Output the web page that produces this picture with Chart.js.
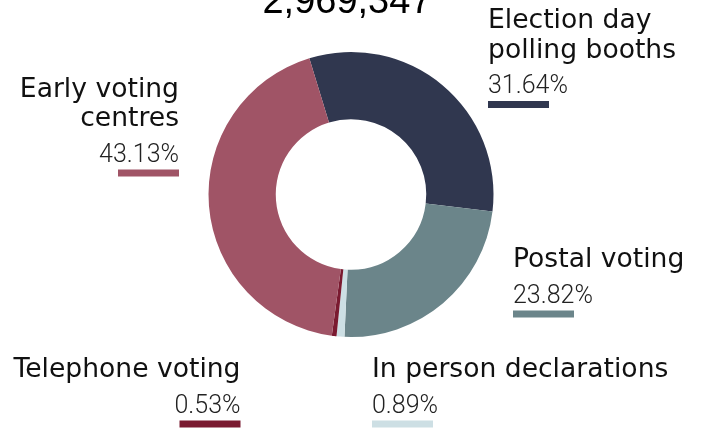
<!DOCTYPE html>
<html lang="en">
<head>
<meta charset="UTF-8">
<title>Votes by method</title>
<script src="https://cdn.jsdelivr.net/npm/chart.js"></script>
<style>
  html, body { margin: 0; padding: 0; background: #fff; }
  .wrap { width: 702px; height: 429px; position: relative; }
</style>
</head>
<body>
<div class="wrap"><canvas id="votes" width="702" height="429"></canvas></div>
<script>
// data
const totalVotes = '2,969,347';
const methods = ['Election day polling booths', 'Postal voting', 'In person declarations', 'Telephone voting', 'Early voting centres'];
const shares = [31.64, 23.82, 0.89, 0.53, 43.13];
const colours = ['#30374f', '#6b858a', '#cddfe4', '#7a1a30', '#a05466'];

// where each label sits (split lines, anchor x, text align, first baseline)
const labelLines = [['Election day', 'polling booths'], ['Postal voting'], ['In person declarations'], ['Telephone voting'], ['Early voting', 'centres']];
const labelPos = [
  { x: 488, align: 'left', y: 28 },
  { x: 513, align: 'left', y: 267 },
  { x: 372, align: 'left', y: 377 },
  { x: 240.5, align: 'right', y: 377 },
  { x: 179, align: 'right', y: 96.5 }
];

const labelPlugin = {
  id: 'labelPlugin',
  afterDraw(chart) {
    const c = chart.ctx;
    c.save();
    // big total, cut off at top like the original
    c.fillStyle = '#000';
    c.font = '38px "Liberation Sans", Arial, sans-serif';
    c.textAlign = 'center';
    c.textBaseline = 'alphabetic';
    c.fillText(totalVotes, 347, 13);

    labelPos.forEach((p, i) => {
      c.textAlign = p.align;
      c.fillStyle = '#111';
      c.font = '26.6px "DejaVu Sans", sans-serif';
      let y = p.y;
      labelLines[i].forEach((ln, j) => {
        c.fillText(ln, p.x, y);
        if (j < labelLines[i].length - 1) y += 29.5;
      });
      y += 35.5;
      c.fillStyle = '#222';
      c.font = '300 25px Roboto, sans-serif';
      c.fillText(shares[i].toFixed(2) + '%', p.x, y);
      c.fillStyle = colours[i];
      const bx = p.align === 'left' ? p.x : p.x - 61;
      c.fillRect(bx, y + 8, 61, 7);
    });
    c.restore();
  }
};

new Chart(document.getElementById('votes'), {
  type: 'doughnut',
  data: {
    labels: methods,
    datasets: [{
      data: shares,
      backgroundColor: colours,
      borderWidth: 0
    }]
  },
  options: {
    responsive: false,
    animation: false,
    rotation: -17,
    cutout: '52.8%',
    layout: { padding: { top: 52, bottom: 92, left: 0, right: 0 } },
    plugins: {
      legend: { display: false },
      tooltip: { enabled: false },
      title: { display: false }
    }
  },
  plugins: [labelPlugin]
});
</script>
</body>
</html>
